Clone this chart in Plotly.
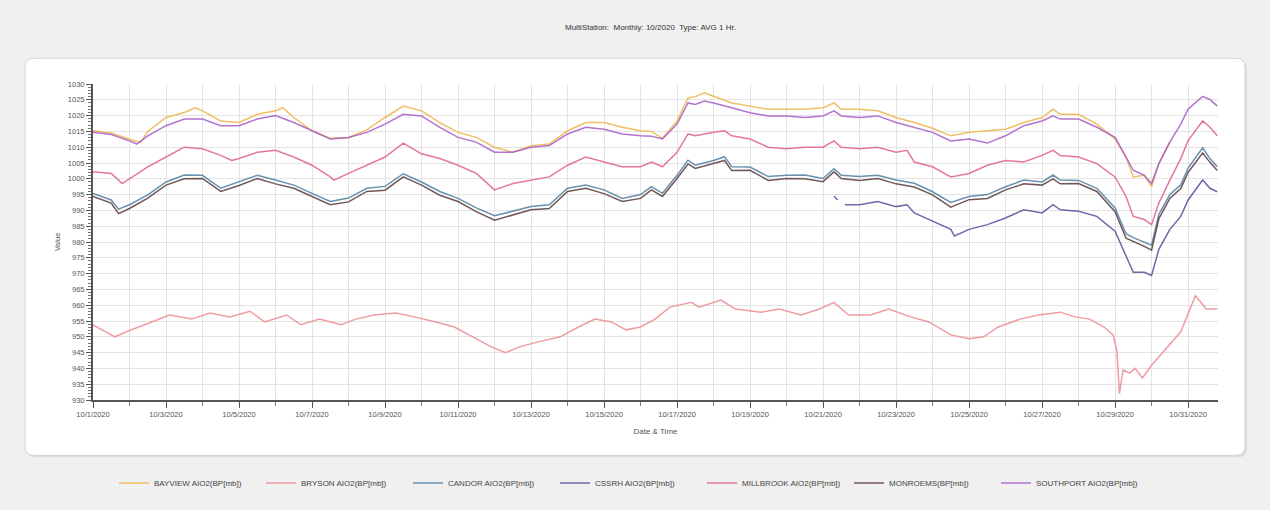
import pandas as pd
import plotly.graph_objects as go

# ---- data (day offset from 10/1/2020 00:00, value in mb) ----
bayview_day = [0, 0.5, 1, 1.3, 1.5, 2, 2.5, 2.8, 3, 3.5, 4, 4.5, 5, 5.2, 5.5, 6, 6.5, 7, 7.5, 8, 8.5, 9, 9.5,
               10, 10.5, 11, 11.5, 12, 12.5, 13, 13.5, 14, 14.5, 15, 15.3, 15.6, 16, 16.3, 16.5, 16.75, 17,
               17.5, 18, 18.5, 19, 19.5, 20, 20.3, 20.5, 21, 21.5, 22, 22.5, 23, 23.5, 24, 24.5, 25, 25.5,
               26, 26.3, 26.5, 27, 27.5, 28, 28.3, 28.5, 28.8, 29, 29.2, 29.5]
bayview_val = [1015.2, 1014.5, 1012.5, 1011.5, 1015.0, 1019.4, 1021.0, 1022.5, 1021.5, 1018.3, 1017.8, 1020.4,
               1021.5, 1022.5, 1019.4, 1015.2, 1012.8, 1013.1, 1015.5, 1019.4, 1023.0, 1021.5, 1017.8, 1014.7,
               1013.1, 1010.0, 1008.4, 1010.5, 1011.0, 1015.2, 1017.8, 1017.8, 1016.3, 1015.2, 1015.0, 1012.8,
               1018.3, 1025.6, 1026.0, 1027.2, 1026.1, 1024.0, 1023.0, 1022.0, 1022.0, 1022.0, 1022.5, 1024.0,
               1022.0, 1022.0, 1021.5, 1019.4, 1017.8, 1016.0, 1013.6, 1014.7, 1015.2, 1015.7, 1017.8, 1019.4,
               1022.0, 1020.4, 1020.4, 1017.3, 1012.6, 1006.9, 1000.6, 1001.1, 997.5, 1004.8, 1011.6]

southport_day = [0, 0.5, 1, 1.2, 1.5, 2, 2.5, 3, 3.5, 4, 4.5, 5, 5.5, 6, 6.5, 7, 7.5, 8, 8.5, 9, 9.5, 10, 10.5,
                 11, 11.5, 12, 12.5, 13, 13.5, 14, 14.5, 15, 15.3, 15.6, 16, 16.3, 16.5, 16.75, 17, 17.5, 18,
                 18.5, 19, 19.5, 20, 20.3, 20.5, 21, 21.5, 22, 22.5, 23, 23.5, 24, 24.5, 25, 25.5, 26, 26.3,
                 26.5, 27, 27.5, 28, 28.3, 28.5, 28.8, 29, 29.2, 29.5, 29.8, 30, 30.4, 30.6, 30.8]
southport_val = [1014.7, 1014.0, 1012.0, 1011.0, 1013.6, 1016.8, 1018.9, 1018.9, 1016.8, 1016.8, 1018.9, 1020.0,
                 1017.8, 1015.2, 1012.6, 1013.1, 1014.7, 1017.3, 1020.4, 1019.9, 1016.3, 1013.1, 1011.6, 1008.4,
                 1008.4, 1010.0, 1010.5, 1014.2, 1016.3, 1015.7, 1014.2, 1013.6, 1013.5, 1012.6, 1017.3, 1024.0,
                 1023.5, 1024.6, 1024.0, 1022.5, 1020.9, 1019.9, 1019.9, 1019.4, 1019.9, 1021.5, 1019.9, 1019.4,
                 1019.9, 1017.8, 1016.3, 1014.7, 1012.0, 1012.6, 1011.3, 1013.6, 1016.8, 1018.3, 1019.9, 1018.9,
                 1018.9, 1016.3, 1013.1, 1006.9, 1002.7, 1001.1, 998.5, 1004.8, 1011.6, 1017.3, 1022.0, 1026.1,
                 1025.1, 1023.0]

millbrook_day = [0, 0.5, 0.8, 1, 1.5, 2, 2.5, 3, 3.5, 3.8, 4, 4.5, 5, 5.5, 6, 6.5, 6.6, 7, 7.5, 8, 8.5, 9, 9.5,
                 10, 10.5, 11, 11.5, 12, 12.5, 13, 13.5, 14, 14.5, 15, 15.3, 15.6, 16, 16.3, 16.5, 17, 17.3,
                 17.5, 18, 18.5, 19, 19.5, 20, 20.3, 20.5, 21, 21.5, 22, 22.3, 22.5, 23, 23.5, 24, 24.5, 25,
                 25.5, 26, 26.3, 26.5, 27, 27.5, 28, 28.3, 28.5, 28.8, 29, 29.2, 29.5, 29.8, 30, 30.4, 30.6, 30.8]
millbrook_val = [1002.2, 1001.7, 998.5, 1000.0, 1003.8, 1006.9, 1010.0, 1009.5, 1007.4, 1005.8, 1006.4, 1008.4,
                 1009.0, 1006.9, 1004.3, 1000.6, 999.6, 1001.7, 1004.3, 1006.9, 1011.3, 1007.9, 1006.4, 1004.3,
                 1001.7, 996.5, 998.5, 999.6, 1000.6, 1004.3, 1006.9, 1005.3, 1003.8, 1003.8, 1005.3, 1003.8,
                 1008.4, 1014.2, 1013.6, 1014.7, 1015.2, 1013.6, 1012.6, 1010.0, 1009.5, 1010.0, 1010.0, 1012.0,
                 1010.0, 1009.5, 1010.0, 1008.4, 1009.0, 1005.3, 1003.8, 1000.6, 1001.7, 1004.3, 1005.8, 1005.3,
                 1007.4, 1009.0, 1007.4, 1006.9, 1004.8, 1000.6, 994.4, 988.1, 987.1, 985.5, 992.3, 999.6, 1006.4,
                 1012.1, 1018.3, 1016.3, 1013.6]

gray_day = [0, 0.5, 0.7, 1, 1.5, 2, 2.5, 3, 3.5, 4, 4.5, 5, 5.5, 6, 6.5, 7, 7.5, 8, 8.5, 9, 9.5, 10, 10.5, 11,
            11.5, 12, 12.5, 13, 13.5, 14, 14.5, 15, 15.3, 15.6, 16, 16.3, 16.5, 17, 17.3, 17.5, 18, 18.5, 19,
            19.5, 20, 20.3, 20.5, 21, 21.5, 22, 22.5, 23, 23.5, 24, 24.5, 25, 25.5, 26, 26.3, 26.5, 27, 27.5,
            28, 28.3, 28.5, 28.8, 29, 29.2, 29.5, 29.8, 30, 30.4, 30.6, 30.8]
candor_val = [995.4, 993.3, 990.4, 991.8, 994.9, 999.0, 1001.2, 1001.1, 997.0, 999.1, 1001.1, 999.6, 998.0, 995.4,
              992.8, 993.9, 997.0, 997.6, 1001.6, 999.0, 996.0, 993.8, 990.8, 988.3, 989.8, 991.2, 991.8, 997.0,
              998.0, 996.5, 993.8, 995.0, 997.5, 995.4, 1001.1, 1005.9, 1004.3, 1005.8, 1007.0, 1003.8, 1003.7,
              1000.7, 1001.1, 1001.2, 1000.1, 1003.2, 1001.1, 1000.7, 1001.1, 999.6, 998.6, 995.9, 992.5, 994.4,
              995.0, 997.5, 999.6, 999.0, 1001.2, 999.6, 999.5, 997.0, 990.8, 982.6, 981.4, 980.0, 979.0, 988.8,
              995.0, 998.1, 1003.4, 1009.8, 1006.4, 1003.8]
monroems_val = [994.4, 992.3, 989.0, 990.6, 993.9, 998.0, 1000.0, 1000.1, 996.0, 997.9, 1000.1, 998.4, 997.0,
                994.4, 991.8, 992.7, 996.0, 996.4, 1000.6, 998.0, 994.8, 992.8, 989.6, 986.9, 988.6, 990.2, 990.6,
                996.0, 997.0, 995.3, 992.8, 993.8, 996.5, 994.4, 1000.1, 1004.7, 1003.3, 1004.8, 1005.8, 1002.6,
                1002.7, 999.5, 1000.1, 1000.0, 999.1, 1002.2, 1000.1, 999.5, 1000.1, 998.4, 997.4, 994.9, 991.0,
                993.4, 993.8, 996.5, 998.4, 998.0, 1000.0, 998.4, 998.5, 996.0, 989.6, 981.2, 980.2, 978.6, 977.4,
                987.4, 993.8, 996.9, 1002.0, 1008.2, 1005.2, 1002.6]

cssrh_day = [20.3, 20.4, 20.45, 20.6, 21, 21.5, 22, 22.3, 22.5, 23, 23.5, 23.6, 24, 24.5, 25, 25.5, 26, 26.3,
             26.5, 27, 27.5, 28, 28.3, 28.5, 28.8, 29, 29.2, 29.5, 29.8, 30, 30.4, 30.6, 30.8]
cssrh_val = [994.5, 993.3, None, 991.8, 991.8, 992.8, 991.2, 991.8, 989.2, 986.6, 984.0, 981.9, 984.0, 985.5,
             987.6, 990.2, 989.2, 991.8, 990.2, 989.7, 988.1, 983.4, 975.6, 970.4, 970.4, 969.4, 977.7, 984.0,
             988.1, 993.3, 999.6, 997.0, 995.9]

bryson_day = [0, 0.6, 1, 1.6, 2.1, 2.7, 3.2, 3.75, 4.3, 4.7, 5.3, 5.7, 6.2, 6.8, 7.2, 7.7, 8.3, 8.8, 9.4, 9.9,
              10.5, 10.9, 11.3, 11.7, 12.2, 12.8, 13.3, 13.75, 14.2, 14.6, 15, 15.4, 15.8, 16.4, 16.6, 17.2,
              17.6, 18.3, 18.8, 19.4, 19.9, 20.3, 20.7, 21.3, 21.8, 22.4, 22.9, 23.5, 24, 24.4, 24.8, 25.4,
              25.9, 26.5, 26.9, 27.3, 27.7, 27.95, 28.05, 28.12, 28.22, 28.4, 28.55, 28.75, 29.0, 29.4, 29.8,
              30.2, 30.5, 30.8]
bryson_val = [953.8, 950.0, 952.0, 954.7, 956.9, 955.6, 957.5, 956.3, 958.1, 954.7, 956.9, 953.8, 955.6, 953.8,
              955.6, 956.9, 957.5, 956.3, 954.7, 953.1, 949.4, 946.9, 945.0, 946.9, 948.4, 950.0, 953.1, 955.6,
              954.7, 952.2, 953.1, 955.6, 959.4, 960.9, 959.4, 961.6, 958.8, 957.8, 958.8, 956.9, 958.8, 960.9,
              956.9, 956.9, 958.8, 956.3, 954.7, 950.6, 949.4, 950.0, 953.1, 955.6, 956.9, 957.8, 956.3, 955.6,
              953.1, 950.5, 945.5, 932.0, 939.5, 938.5, 940.0, 937.0, 941.0, 946.3, 951.6, 963.0, 958.8, 958.8]

names = ["BAYVIEW AIO2(BP[mb])", "BRYSON AIO2(BP[mb])", "CANDOR AIO2(BP[mb])", "CSSRH AIO2(BP[mb])",
         "MILLBROOK AIO2(BP[mb])", "MONROEMS(BP[mb])", "SOUTHPORT AIO2(BP[mb])"]
colors = ["#EFB44A", "#EE8C92", "#4F7FA0", "#5B4B9C", "#E0608E", "#5A3A3E", "#A65BC8"]

base = pd.Timestamp("2020-10-01")


def to_dates(days):
    return [base + pd.Timedelta(days=d) for d in days]


series = [
    (names[0], bayview_day, bayview_val, colors[0]),
    (names[1], bryson_day, bryson_val, colors[1]),
    (names[2], gray_day, candor_val, colors[2]),
    (names[3], cssrh_day, cssrh_val, colors[3]),
    (names[4], millbrook_day, millbrook_val, colors[4]),
    (names[5], gray_day, monroems_val, colors[5]),
    (names[6], southport_day, southport_val, colors[6]),
]

fig = go.Figure()
for name, d, v, c in series:
    fig.add_trace(go.Scatter(x=to_dates(d), y=v, name=name, mode="lines",
                             line=dict(color=c, width=1.5), opacity=0.85, connectgaps=False))

W, H = 1270, 510
L, R, T, B = 93, 52, 84, 106
pw, ph = W - L - R, H - T - B


def px(x):
    return (x - L) / pw


def py(y):
    return (H - B - y) / ph


def rounded(x0, y0, x1, y1, r):
    rx, ry = r / pw, r / ph
    X0, X1, Y0, Y1 = px(x0), px(x1), py(y1), py(y0)
    return (f"M {X0+rx},{Y1} L {X1-rx},{Y1} Q {X1},{Y1} {X1},{Y1-ry} L {X1},{Y0+ry} "
            f"Q {X1},{Y0} {X1-rx},{Y0} L {X0+rx},{Y0} Q {X0},{Y0} {X0},{Y0+ry} "
            f"L {X0},{Y1-ry} Q {X0},{Y1} {X0+rx},{Y1} Z")


font_fam = "Liberation Sans, Arial, sans-serif"
fig.update_layout(
    width=W, height=H,
    margin=dict(l=L, r=R, t=T, b=B),
    paper_bgcolor="#F0F0F0", plot_bgcolor="#FFFFFF",
    font=dict(family=font_fam, size=8, color="#444444"),
    shapes=[
        dict(type="path", xref="paper", yref="paper", path=rounded(27, 60, 1247, 462, 9),
             fillcolor="#DCDCDC", line=dict(width=0), layer="below"),
        dict(type="path", xref="paper", yref="paper", path=rounded(25, 58, 1245, 460, 9),
             fillcolor="#FFFFFF", line=dict(color="#D4D4D4", width=1), layer="below"),
    ],
    annotations=[
        dict(text="MultiStation:  Monthly: 10/2020  Type: AVG 1 Hr.", xref="paper", yref="paper",
             x=px(650), y=py(27), showarrow=False, font=dict(size=8, color="#333333"),
             xanchor="center", yanchor="middle"),
    ],
    showlegend=True,
    legend=dict(orientation="h", x=px(114), y=py(488), xanchor="left", yanchor="middle",
                font=dict(size=8, color="#444444"), entrywidth=102, entrywidthmode="pixels",
                bgcolor="rgba(0,0,0,0)"),
)

fig.update_xaxes(
    type="date", range=[base, base + pd.Timedelta(days=30.82)],
    tick0=base, dtick=2 * 86400000, tickformat="%-m/%-d/%Y",
    ticks="outside", ticklen=6, tickcolor="#555555", tickwidth=1.2,
    showline=True, linecolor="#555555", linewidth=2,
    showgrid=True, gridcolor="#E4E4E4", gridwidth=1,
    minor=dict(dtick=86400000, tick0=base, ticks="outside", ticklen=4, tickcolor="#777777",
               showgrid=True, gridcolor="#E4E4E4"),
    tickfont=dict(size=7.5, color="#555555"),
    title=dict(text="Date & Time", font=dict(size=8, color="#555555"), standoff=10),
    zeroline=False,
)
fig.update_yaxes(
    range=[930, 1030], dtick=5, tick0=930,
    ticks="outside", ticklen=5, tickcolor="#555555", tickwidth=1.2,
    showline=True, linecolor="#555555", linewidth=2,
    showgrid=True, gridcolor="#E4E4E4", gridwidth=1,
    minor=dict(dtick=1, ticks="outside", ticklen=3, tickcolor="#777777", showgrid=False),
    tickfont=dict(size=7.5, color="#555555"),
    title=dict(text="Value", font=dict(size=7.5, color="#555555"), standoff=6),
    zeroline=False,
)

fig.write_html("out.html", config={"displayModeBar": False},
               post_script="document.body.style.margin='0';document.body.style.background='#F0F0F0';")
